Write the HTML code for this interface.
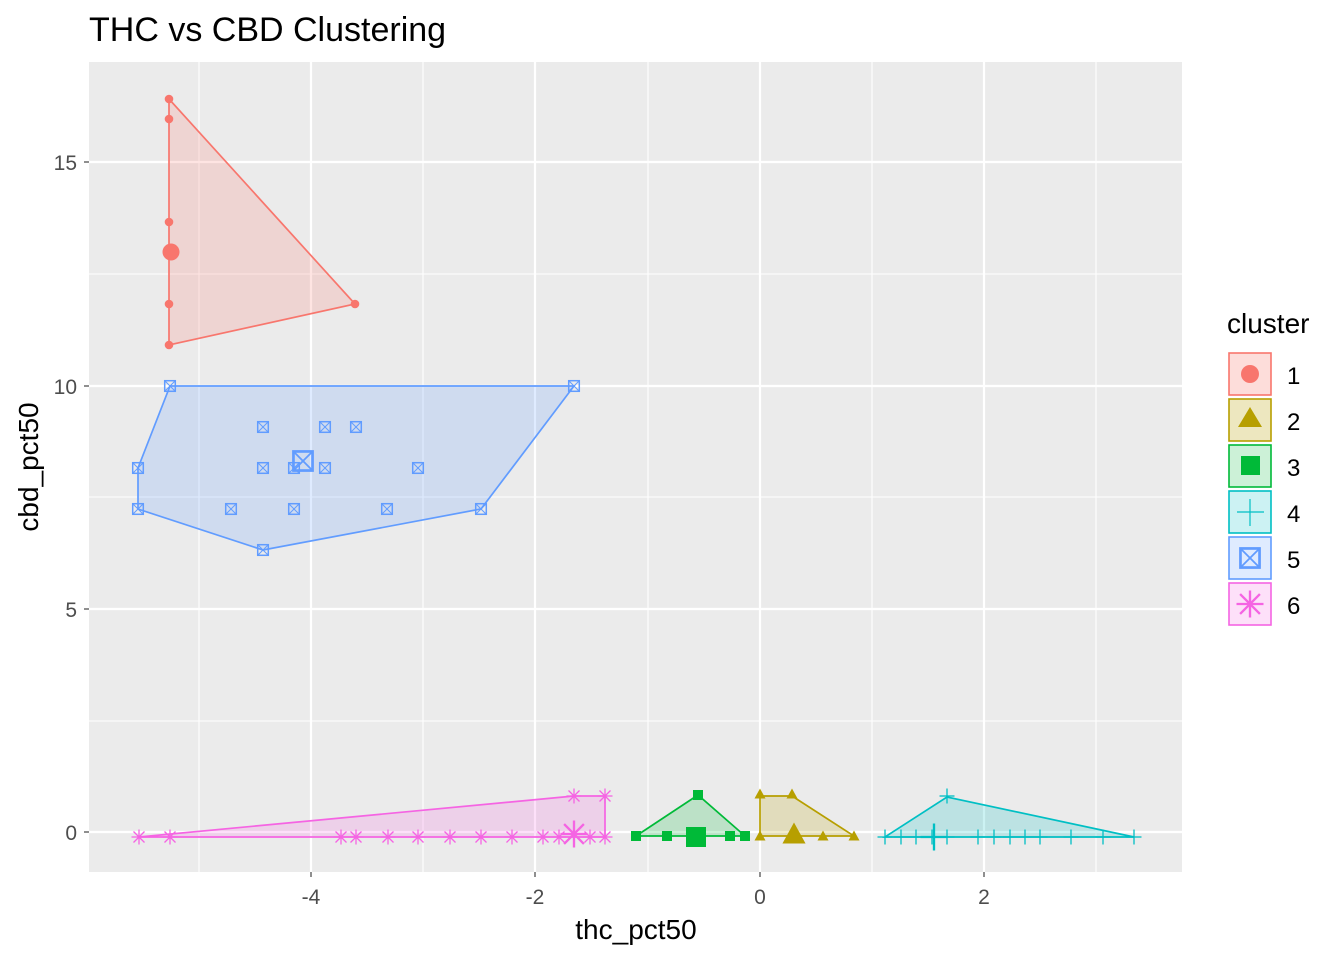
<!DOCTYPE html>
<html><head><meta charset="utf-8"><style>body{margin:0;background:#fff}svg{display:block;font-family:"Liberation Sans",Arial,sans-serif}</style></head><body>
<svg width="1344" height="960" viewBox="0 0 1344 960" xmlns="http://www.w3.org/2000/svg">
<defs>
<g id="c"><circle r="4.3" fill="#F8766D"/></g>
<g id="t"><polygon points="0,-5.5 5.5,4.5 -5.5,4.5" fill="#B79F00"/></g>
<g id="s"><rect x="-5" y="-5" width="10" height="10" fill="#00BA38"/></g>
<g id="p" stroke="#00BFC4" stroke-width="1.3"><line x1="-7.5" y1="0" x2="7.5" y2="0"/><line x1="0" y1="-7.5" x2="0" y2="7.5"/></g>
<g id="b" stroke="#619CFF" stroke-width="1"><rect x="-5.3" y="-5.3" width="10.6" height="10.6" fill="none" stroke-width="1.5"/><line x1="-5" y1="-5" x2="5" y2="5"/><line x1="-5" y1="5" x2="5" y2="-5"/></g>
<g id="a" stroke="#F564E3" stroke-width="1.3"><line x1="-7.5" y1="0" x2="7.5" y2="0"/><line x1="0" y1="-7.5" x2="0" y2="7.5"/><line x1="-5.5" y1="-5.5" x2="5.5" y2="5.5"/><line x1="-5.5" y1="5.5" x2="5.5" y2="-5.5"/></g>
</defs>
<rect x="89" y="62" width="1093" height="810" fill="#EBEBEB"/>
<g stroke="#fff" stroke-width="1.1">
<line x1="199" y1="62" x2="199" y2="872"/><line x1="423" y1="62" x2="423" y2="872"/><line x1="648" y1="62" x2="648" y2="872"/><line x1="872" y1="62" x2="872" y2="872"/><line x1="1096" y1="62" x2="1096" y2="872"/>
<line x1="89" y1="274" x2="1182" y2="274"/><line x1="89" y1="497" x2="1182" y2="497"/><line x1="89" y1="721" x2="1182" y2="721"/>
</g>
<g stroke="#fff" stroke-width="2.2">
<line x1="311" y1="62" x2="311" y2="872"/><line x1="535" y1="62" x2="535" y2="872"/><line x1="760" y1="62" x2="760" y2="872"/><line x1="984" y1="62" x2="984" y2="872"/>
<line x1="89" y1="162" x2="1182" y2="162"/><line x1="89" y1="386" x2="1182" y2="386"/><line x1="89" y1="609" x2="1182" y2="609"/><line x1="89" y1="832" x2="1182" y2="832"/>
</g>
<g stroke-width="1.7">
<polygon points="169,99 355,304 169,345" fill="#F8766D" fill-opacity="0.2" stroke="#F8766D"/>
<polygon points="170,386 574,386 481,509 263,550 138,509 138,468" fill="#619CFF" fill-opacity="0.2" stroke="#619CFF"/>
<polygon points="139,837 574,796 605,796 605,837" fill="#F564E3" fill-opacity="0.2" stroke="#F564E3"/>
<polygon points="636,836 698,795 745,836" fill="#00BA38" fill-opacity="0.2" stroke="#00BA38"/>
<polygon points="760,796 792,796 854,836 760,836" fill="#B79F00" fill-opacity="0.2" stroke="#B79F00"/>
<polygon points="885,837 947,797 1134,837" fill="#00BFC4" fill-opacity="0.2" stroke="#00BFC4"/>
</g>
<use href="#c" x="169" y="99"/><use href="#c" x="169" y="119"/><use href="#c" x="169" y="222"/><use href="#c" x="169" y="304"/><use href="#c" x="169" y="345"/><use href="#c" x="355" y="304"/>
<circle cx="171" cy="252" r="8.5" fill="#F8766D"/>
<use href="#b" x="170" y="386"/><use href="#b" x="574" y="386"/><use href="#b" x="263" y="427"/><use href="#b" x="325" y="427"/><use href="#b" x="356" y="427"/><use href="#b" x="138" y="468"/><use href="#b" x="263" y="468"/><use href="#b" x="294" y="468"/><use href="#b" x="325" y="468"/><use href="#b" x="418" y="468"/><use href="#b" x="138" y="509"/><use href="#b" x="231" y="509"/><use href="#b" x="294" y="509"/><use href="#b" x="387" y="509"/><use href="#b" x="481" y="509"/><use href="#b" x="263" y="550"/>
<g transform="translate(303,461) scale(1.8)"><use href="#b"/></g>
<use href="#a" x="139" y="837"/><use href="#a" x="170" y="837"/><use href="#a" x="341" y="837"/><use href="#a" x="356" y="837"/><use href="#a" x="388" y="837"/><use href="#a" x="418" y="837"/><use href="#a" x="450" y="837"/><use href="#a" x="481" y="837"/><use href="#a" x="512" y="837"/><use href="#a" x="543" y="837"/><use href="#a" x="559" y="837"/><use href="#a" x="590" y="837"/><use href="#a" x="605" y="837"/><use href="#a" x="574" y="796"/><use href="#a" x="605" y="796"/>
<g transform="translate(574,834) scale(1.8)"><use href="#a"/></g>
<use href="#s" x="636" y="836"/><use href="#s" x="667" y="836"/><use href="#s" x="730" y="836"/><use href="#s" x="745" y="836"/><use href="#s" x="698" y="795"/>
<rect x="686" y="827" width="20" height="20" fill="#00BA38"/>
<use href="#t" x="760" y="836"/><use href="#t" x="823" y="836"/><use href="#t" x="854" y="836"/><use href="#t" x="760" y="794"/><use href="#t" x="792" y="794"/>
<g transform="translate(794,834) scale(2.1)"><use href="#t"/></g>
<use href="#p" x="885" y="837"/><use href="#p" x="901" y="837"/><use href="#p" x="916" y="837"/><use href="#p" x="932" y="837"/><use href="#p" x="947" y="837"/><use href="#p" x="978" y="837"/><use href="#p" x="994" y="837"/><use href="#p" x="1010" y="837"/><use href="#p" x="1025" y="837"/><use href="#p" x="1040" y="837"/><use href="#p" x="1071" y="837"/><use href="#p" x="1103" y="837"/><use href="#p" x="1134" y="837"/><use href="#p" x="947" y="796"/>
<g transform="translate(934,837) scale(1.8)"><use href="#p"/></g>
<g stroke="#333" stroke-width="1.1">
<line x1="311" y1="872" x2="311" y2="877"/><line x1="535" y1="872" x2="535" y2="877"/><line x1="760" y1="872" x2="760" y2="877"/><line x1="984" y1="872" x2="984" y2="877"/>
<line x1="84" y1="162" x2="89" y2="162"/><line x1="84" y1="386" x2="89" y2="386"/><line x1="84" y1="609" x2="89" y2="609"/><line x1="84" y1="832" x2="89" y2="832"/>
</g>
<g font-size="21" fill="#4D4D4D" text-anchor="middle">
<text x="311" y="904">-4</text><text x="535" y="904">-2</text><text x="760" y="904">0</text><text x="984" y="904">2</text>
</g>
<g font-size="21" fill="#4D4D4D" text-anchor="end">
<text x="77" y="170">15</text><text x="77" y="394">10</text><text x="77" y="617">5</text><text x="77" y="840">0</text>
</g>
<text x="636" y="939" font-size="28" text-anchor="middle" fill="#000">thc_pct50</text>
<text transform="translate(38,467) rotate(-90)" font-size="28" text-anchor="middle" fill="#000">cbd_pct50</text>
<text x="89" y="41" font-size="34" fill="#000">THC vs CBD Clustering</text>
<text x="1227" y="333" font-size="28" fill="#000">cluster</text>
<g stroke-width="1.6">
<rect x="1229" y="353" width="42" height="42" fill="#F8766D" fill-opacity="0.25" stroke="#F8766D"/>
<rect x="1229" y="399" width="42" height="42" fill="#B79F00" fill-opacity="0.25" stroke="#B79F00"/>
<rect x="1229" y="445" width="42" height="42" fill="#00BA38" fill-opacity="0.2" stroke="#00BA38"/>
<rect x="1229" y="491" width="42" height="42" fill="#00BFC4" fill-opacity="0.2" stroke="#00BFC4"/>
<rect x="1229" y="537" width="42" height="42" fill="#619CFF" fill-opacity="0.2" stroke="#619CFF"/>
<rect x="1229" y="583" width="42" height="42" fill="#F564E3" fill-opacity="0.2" stroke="#F564E3"/>
</g>
<circle cx="1250" cy="374" r="9" fill="#F8766D"/>
<polygon points="1250,407 1262,427 1238,427" fill="#B79F00"/>
<rect x="1241" y="456" width="19" height="19" fill="#00BA38"/>
<g stroke="#00BFC4" stroke-width="1.2"><line x1="1237" y1="512" x2="1264" y2="512"/><line x1="1250" y1="499" x2="1250" y2="526"/></g>
<g transform="translate(1250,558) scale(1.8)"><use href="#b"/></g>
<g transform="translate(1250,604) scale(1.8)"><use href="#a"/></g>
<g font-size="24" fill="#000">
<text x="1287" y="384">1</text><text x="1287" y="430">2</text><text x="1287" y="476">3</text><text x="1287" y="522">4</text><text x="1287" y="568">5</text><text x="1287" y="614">6</text>
</g>
</svg>
</body></html>
